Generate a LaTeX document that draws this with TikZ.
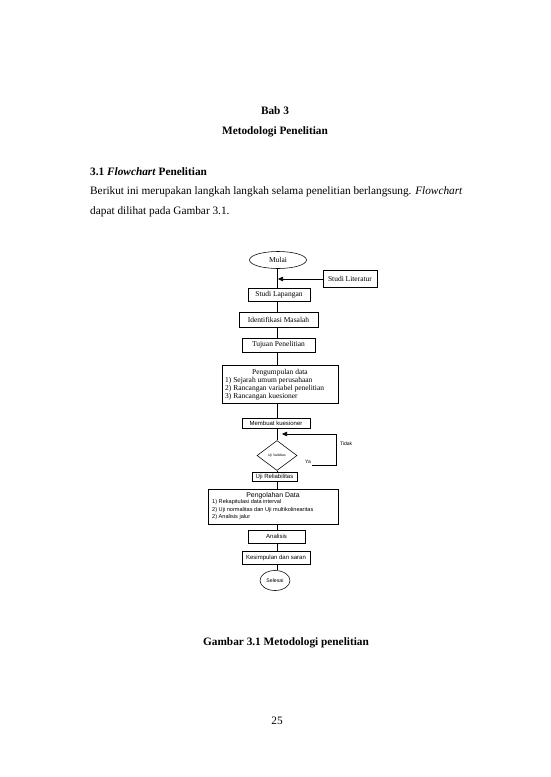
\documentclass[tikz,border=0pt]{standalone}
\usepackage{fontspec}
\setmainfont{Liberation Serif}
\setsansfont{Liberation Sans}
\usetikzlibrary{arrows.meta,shapes.geometric}
\tikzset{
  body/.style={inner sep=0pt, font=\fontsize{11.3}{13}\selectfont},
  bodyb/.style={inner sep=0pt, font=\fontsize{11.3}{13}\selectfont\bfseries},
  fbox/.style={draw, line width=0.55pt, inner sep=0pt, font=\fontsize{7.5}{8}\selectfont},
  sbox/.style={draw, line width=0.55pt, inner sep=0pt, font=\sffamily\fontsize{6}{7}\selectfont},
  ftxt/.style={inner sep=0pt, font=\fontsize{7.5}{8}\selectfont},
  stxt/.style={inner sep=0pt, font=\sffamily\fontsize{5.6}{6}\selectfont},
  conn/.style={line width=0.55pt},
  arr/.style={line width=0.55pt, -{Triangle[length=5pt,width=4.5pt]}},
}
\begin{document}
\begin{tikzpicture}[x=1pt,y=-1pt]
\fill[white] (0,0) rectangle (550,777);
\useasboundingbox (0,0) rectangle (550,777);

% page text
\node[bodyb, anchor=base] (bab) at (275,114) {Bab 3};
\node[bodyb, anchor=base] (judul) at (275,134) {Metodologi Penelitian};
\node[bodyb, anchor=base west] (sub) at (90,175) {3.1 \textit{Flowchart} Penelitian};
\node[body, anchor=base west] (p1) at (90,194) {Berikut ini merupakan langkah langkah selama penelitian berlangsung. \textit{Flowchart}};
\node[body, anchor=base west] (p2) at (90,214) {dapat dilihat pada Gambar 3.1.};
\node[bodyb, anchor=base] (cap) at (286,645) {Gambar 3.1 Metodologi penelitian};
\node[body, anchor=base] (pg) at (277,724) {25};

% flowchart
\coordinate (col) at (277,0);
\node[fbox, ellipse, minimum width=57pt, minimum height=17pt] (mulai) at (278,260) {Mulai};
\node[fbox, minimum width=54pt, minimum height=17pt] (lit) at (350,279) {Studi Literatur};
\node[fbox, minimum width=62pt, minimum height=13pt] (lap) at (279,294.5) {Studi Lapangan};
\node[fbox, minimum width=79pt, minimum height=15pt] (idm) at (278.5,319.5) {Identifikasi Masalah};
\node[fbox, minimum width=73pt, minimum height=14pt] (tuj) at (278.5,345) {Tujuan Penelitian};
\node[fbox, minimum width=116pt, minimum height=38pt] (kumpul) at (280,384) {};
\node[ftxt] (k0) at (280,372.5) {Pengumpulan data};
\node[ftxt, anchor=west] (k1) at (225,380.5) {1) Sejarah umum perusahaan};
\node[ftxt, anchor=west] (k2) at (225,388.5) {2) Rancangan variabel penelitian};
\node[ftxt, anchor=west] (k3) at (225,396.5) {3) Rancangan kuesioner};
\node[sbox, minimum width=68pt, minimum height=10pt] (mk) at (276,423) {Membuat kuesioner};
\node[draw, line width=0.55pt, diamond, inner sep=0pt, minimum width=40pt, minimum height=30pt,
      font=\sffamily\fontsize{3.4}{4}\selectfont] (uv) at (277,455.5) {Uji Validitas};
\node[sbox, minimum width=45pt, minimum height=9pt] (ur) at (274.5,476.5) {Uji Reliabilitas};
\node[sbox, minimum width=130pt, minimum height=35pt] (olah) at (273,506.5) {};
\node[inner sep=0pt, font=\sffamily\fontsize{6.9}{7}\selectfont] (o0) at (273,495.5) {Pengolahan Data};
\node[stxt, anchor=west] (o1) at (212,502.5) {1) Rekapitulasi data interval};
\node[stxt, anchor=west] (o2) at (212,509.8) {2) Uji normalitas dan Uji multikolinearitas};
\node[stxt, anchor=west] (o3) at (212,517) {2) Analisis jalur};
\node[sbox, minimum width=57pt, minimum height=13pt] (ana) at (276.5,536.5) {Analisis};
\node[sbox, minimum width=68pt, minimum height=13pt] (kes) at (276,557.5) {Kesimpulan dan saran};
\node[sbox, ellipse, minimum width=30pt, minimum height=20pt, font=\sffamily\fontsize{5.2}{6}\selectfont] (sel) at (275,580.5) {Selesai};

\draw[conn] (mulai.south -| col) -- (lap.north -| col);
\draw[arr, shorten >=1pt] (lit.west) -- (lit.west -| col);
\draw[conn] (lap.south -| col) -- (idm.north -| col);
\draw[conn] (idm.south -| col) -- (tuj.north -| col);
\draw[conn] (tuj.south -| col) -- (kumpul.north -| col);
\draw[conn] (kumpul.south -| col) -- (mk.north -| col);
\draw[conn] (mk.south -| col) -- (uv.north);
\draw[conn] (uv.south) -- (ur.north -| col);
\draw[conn] (ur.south -| col) -- (olah.north -| col);
\draw[conn] (olah.south -| col) -- (ana.north -| col);
\draw[conn] (ana.south -| col) -- (kes.north -| col);
\draw[conn] (kes.south -| col) -- (sel.north -| col);

\coordinate (yaS) at (312,465);
\coordinate (lpc) at (336,434);
\coordinate (tipA) at (282,434);
\draw[arr] (yaS) -| (lpc) -- (tipA);
\node[stxt, anchor=east, font=\sffamily\fontsize{5}{6}\selectfont] (yal) at (311,462) {Ya};
\node[stxt, anchor=west, font=\sffamily\fontsize{5}{6}\selectfont] (tdk) at (340,444) {Tidak};
\end{tikzpicture}
\end{document}
